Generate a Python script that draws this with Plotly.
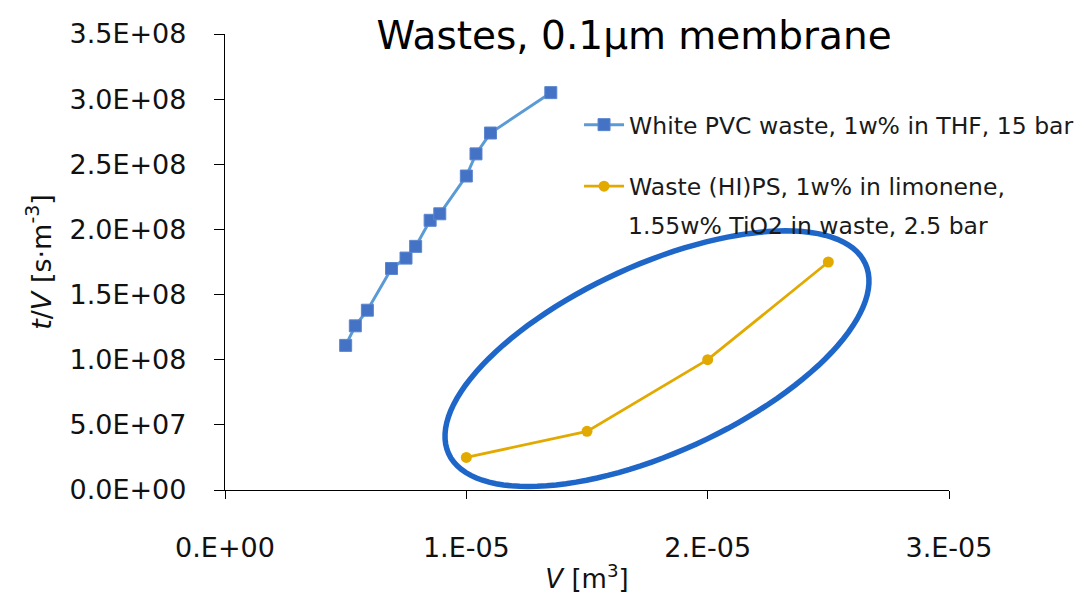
import numpy as np
import plotly.graph_objects as go

# Filtration data: filtrate volume V [m^3] and t/V [s m^-3]
pvc_v = [5.0e-6, 5.4e-6, 5.9e-6, 6.9e-6, 7.5e-6, 7.9e-6, 8.5e-6, 8.9e-6, 1.0e-5, 1.04e-5, 1.1e-5, 1.35e-5]
pvc_tv = [1.11e8, 1.26e8, 1.38e8, 1.70e8, 1.78e8, 1.87e8, 2.07e8, 2.12e8, 2.41e8, 2.58e8, 2.74e8, 3.05e8]
ps_v = [1.0e-5, 1.5e-5, 2.0e-5, 2.5e-5]
ps_tv = [2.5e7, 4.5e7, 1.0e8, 1.75e8]

pvc_name = "White PVC waste, 1w% in THF, 15 bar"
ps_name = "Waste (HI)PS, 1w% in limonene,"
ps_name_cont = "1.55w% TiO2 in waste, 2.5 bar"

y_tickvals = [0, 5e7, 1e8, 1.5e8, 2e8, 2.5e8, 3e8, 3.5e8]
y_ticktext = ["0.0E+00", "5.0E+07", "1.0E+08", "1.5E+08", "2.0E+08", "2.5E+08", "3.0E+08", "3.5E+08"]
x_tickvals = [0, 1e-5, 2e-5, 3e-5]
x_ticktext = ["0.E+00", "1.E-05", "2.E-05", "3.E-05"]

FONT = "DejaVu Sans"
LEG_SIZE = 23.5

fig = go.Figure()
fig.add_trace(go.Scatter(
    x=pvc_v, y=pvc_tv, name=pvc_name, mode="lines+markers", legendgroup="pvc",
    line=dict(color="#5B9BD5", width=3),
    marker=dict(symbol="square", size=12, color="#4472C4", line=dict(color="#5B86D0", width=1)),
))
fig.add_trace(go.Scatter(
    x=ps_v, y=ps_tv, name=ps_name, mode="lines+markers", legendgroup="ps",
    line=dict(color="#E2AA00", width=2.8),
    marker=dict(symbol="circle", size=11, color="#E2AA00"),
))

# Highlight ellipse around the (HI)PS series, drawn in pixel offsets about its centre
ell_cx, ell_cy = 1.79e-5, 1.008e8
ell_a, ell_b, ell_ang = 229, 94, np.deg2rad(24.5)
t = np.linspace(0, 2 * np.pi, 121)
ex = ell_a * np.cos(t) * np.cos(ell_ang) - ell_b * np.sin(t) * np.sin(ell_ang)
ey = ell_a * np.cos(t) * np.sin(ell_ang) + ell_b * np.sin(t) * np.cos(ell_ang)
path = "M" + " L".join(f"{px:.2f},{py:.2f}" for px, py in zip(ex, ey)) + " Z"
fig.add_shape(type="path", path=path, xref="x", yref="y",
              xsizemode="pixel", ysizemode="pixel", xanchor=ell_cx, yanchor=ell_cy,
              line=dict(color="#1F66C9", width=5.5), layer="above")

# Continuation line of the second legend entry
fig.add_annotation(text=ps_name_cont, xref="paper", yref="paper", x=0.5545, y=0.579,
                   xanchor="left", yanchor="middle", showarrow=False,
                   font=dict(family=FONT, size=LEG_SIZE, color="#1a1a1a"))

axis_common = dict(showgrid=False, zeroline=False, showline=True, linecolor="#000000", linewidth=1.3,
                   ticks="outside", tickcolor="#000000", tickwidth=1.3,
                   tickfont=dict(family=FONT, size=27, color="#111111"))

fig.update_layout(
    width=1083, height=597,
    margin=dict(l=225, r=134, t=34, b=107, autoexpand=False),
    paper_bgcolor="white", plot_bgcolor="white",
    font=dict(family=FONT, color="#111111"),
    title=dict(text="Wastes, 0.1µm membrane", font=dict(family=FONT, size=39, color="#000000"),
               x=0.5855, xref="container", xanchor="center", y=0.94, yref="container", yanchor="middle"),
    showlegend=True,
    legend=dict(x=0.489, y=0.849, xref="paper", yref="paper", xanchor="left", yanchor="top",
                bgcolor="rgba(0,0,0,0)", font=dict(family=FONT, size=LEG_SIZE, color="#1a1a1a"),
                valign="top", tracegroupgap=28, itemwidth=40),
    xaxis=dict(range=[0, 3e-5], tickvals=x_tickvals, ticktext=x_ticktext, ticklen=8,
               ticklabelstandoff=25,
               title=dict(text="<i>V</i> [m<sup>3</sup>]", font=dict(family=FONT, size=26), standoff=8),
               **axis_common),
    yaxis=dict(range=[0, 3.5e8], tickvals=y_tickvals, ticktext=y_ticktext, ticklen=10,
               ticklabelstandoff=22,
               title=dict(text="<i>t</i>/<i>V</i> [s·m<sup>-3</sup>]", font=dict(family=FONT, size=27), standoff=10),
               **axis_common),
)

fig.write_html("out.html")
